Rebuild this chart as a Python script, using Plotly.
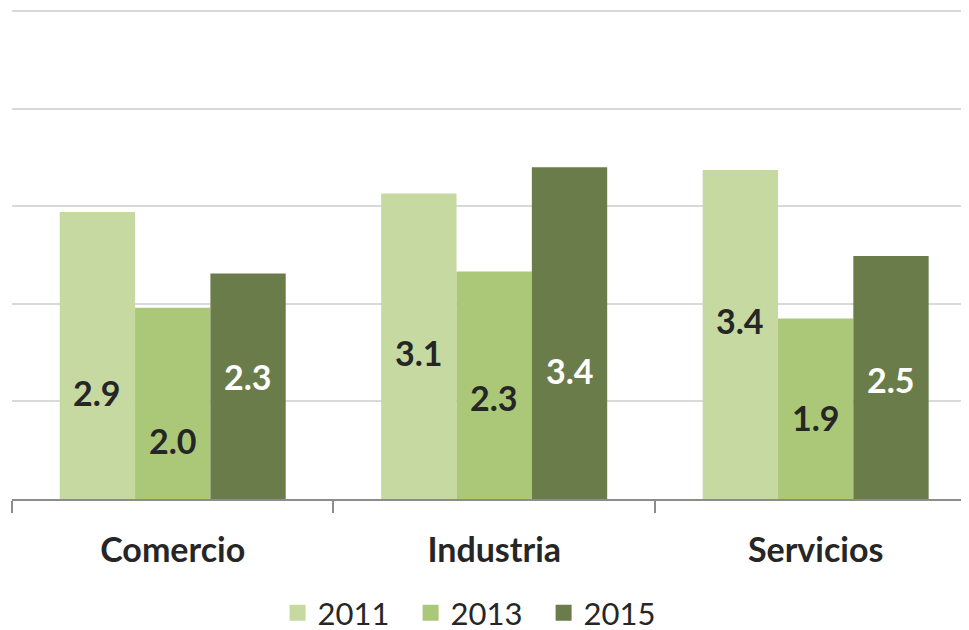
import plotly.graph_objects as go

categories = ["Comercio", "Industria", "Servicios"]
years = ["2011", "2013", "2015"]
values_2011 = [2.94, 3.13, 3.37]
values_2013 = [1.96, 2.33, 1.85]
values_2015 = [2.31, 3.40, 2.49]
series = [values_2011, values_2013, values_2015]

# label anchor heights (in data units) as placed in the original
label_y_2011 = [1.09, 1.50, 1.83]
label_y_2013 = [0.60, 1.04, 0.83]
label_y_2015 = [1.26, 1.32, 1.22]
label_ys = [label_y_2011, label_y_2013, label_y_2015]

colors = ["#c5d9a1", "#abc878", "#6b7c4b"]
label_colors = ["#262626", "#262626", "#ffffff"]
FONT = "Lato, 'Open Sans', sans-serif"

fig = go.Figure()
for yr, vals, col in zip(years, series, colors):
    fig.add_trace(go.Bar(name=yr, x=categories, y=vals, marker=dict(color=col, line=dict(width=0)),
                         hoverinfo="x+y", showlegend=False, legendgroup=yr))
# legend entries with larger square swatches
for yr, col in zip(years, colors):
    fig.add_trace(go.Scatter(name=yr, x=[None], y=[None], mode="markers", legendgroup=yr,
                             marker=dict(symbol="square", size=20, color=col)))

bargap = 0.297
group_w = 1 - bargap
bar_w = group_w / 3
for i, (vals, ly, lc) in enumerate(zip(series, label_ys, label_colors)):
    for j, (v, y) in enumerate(zip(vals, ly)):
        xoff = -group_w / 2 + bar_w * (i + 0.5)
        fig.add_annotation(x=j + xoff, y=y, xref="x", yref="y", text=f"<b>{v:.1f}</b>",
                           showarrow=False, font=dict(family=FONT, size=34, color=lc))

# the page body adds an 8px offset; margins compensate for it
fig.update_layout(
    width=969, height=630,
    margin=dict(l=4, r=8, t=1, b=139, autoexpand=False),
    paper_bgcolor="white", plot_bgcolor="white",
    barmode="group", bargap=bargap, bargroupgap=0,
    font=dict(family=FONT, color="#262626"),
    showlegend=True,
    legend=dict(orientation="h", x=0.486, xanchor="center", y=-0.233, yanchor="middle",
                font=dict(family=FONT, size=31, color="#262626"), itemwidth=30,
                entrywidth=88, traceorder="normal", itemsizing="trace"),
    xaxis=dict(type="category", range=[-0.5, 2.477], showgrid=False, showline=True,
               linecolor="#8c8c8c", linewidth=1.5, ticks="outside", tickson="boundaries",
               ticklen=12, tickcolor="#8c8c8c", tickwidth=1.5,
               tickfont=dict(family=FONT, size=34, color="#262626"),
               ticklabelstandoff=20, tickprefix="<b>", ticksuffix="</b>", automargin=False),
    yaxis=dict(range=[0, 5.02], tickvals=[1, 2, 3, 4, 5], showgrid=True, gridcolor="#d9d9d9",
               gridwidth=2, showticklabels=False, zeroline=False, showline=False,
               automargin=False),
)

fig.write_html("out.html")
